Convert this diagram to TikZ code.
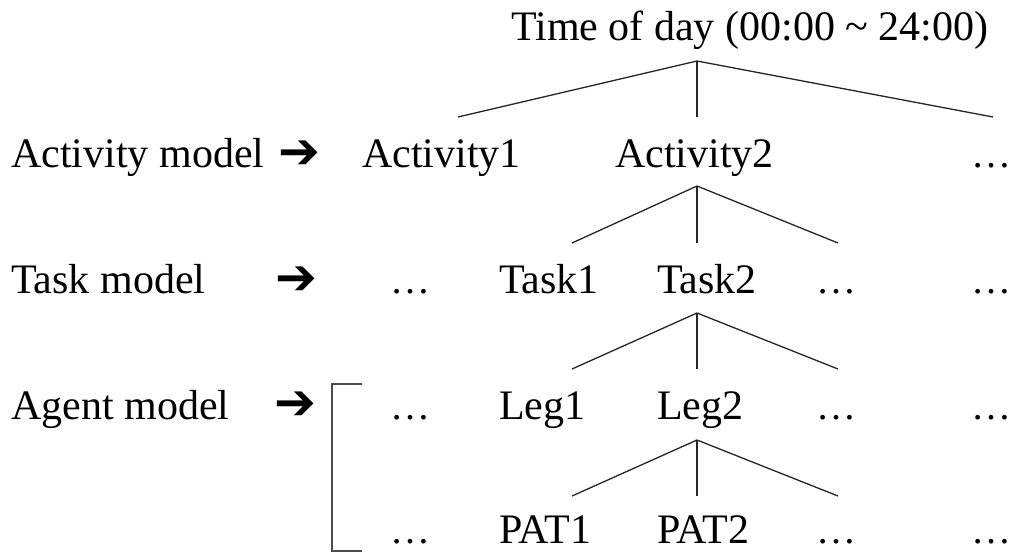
\documentclass[tikz,border=0pt]{standalone}
\usepackage{fontspec}
\setmainfont{Liberation Serif}
\newfontfamily\symfont{DejaVu Sans}
\begin{document}
\begin{tikzpicture}[x=1pt,y=-1pt,
  lbl/.style={inner sep=0pt,anchor=base west,font=\fontsize{42}{50}\selectfont},
  dots/.style={inner sep=0pt,anchor=base,font=\fontsize{40}{48}\selectfont},
  arr/.style={inner sep=0pt,anchor=center,font=\symfont\fontsize{50}{56}\selectfont},
  edge/.style={line width=1.3pt,black!85},
  brk/.style={line width=1.6pt,black!70}]
\useasboundingbox[fill=white] (0,0) rectangle (1019,552);
% title
\node[lbl] (title) at (511,40) {Time of day (00:00 \char"007E{} 24:00)};
\coordinate (t0) at (697,61);
\coordinate (t1) at (458,117);
\coordinate (t2) at (697,117);
\coordinate (t3) at (993,117);
\draw[edge] (t1) -- (t0) -- (t3);
\draw[edge] (t0) -- (t2);
% row 1
\node[lbl] (am) at (11,167) {Activity model};
\node[arr] (ar1) at (299,155) {➔};
\node[lbl] (a1) at (362,167) {Activity1};
\node[lbl] (a2) at (615,167) {Activity2};
\node[dots] (ae) at (991,167) {…};
\coordinate (a0) at (697,186);
\coordinate (a1e) at (572,243);
\coordinate (a2e) at (697,243);
\coordinate (a3e) at (838,243);
\draw[edge] (a1e) -- (a0) -- (a3e);
\draw[edge] (a0) -- (a2e);
% row 2
\node[lbl] (tm) at (11,293) {Task model};
\node[arr] (ar2) at (296,281) {➔};
\node[dots] (td) at (410,293) {…};
\node[lbl] (k1) at (499,293) {Task1};
\node[lbl] (k2) at (657,293) {Task2};
\node[dots] (kd) at (836,293) {…};
\node[dots] (ke) at (991,293) {…};
\coordinate (k0) at (697,313);
\coordinate (k1e) at (572,369);
\coordinate (k2e) at (697,369);
\coordinate (k3e) at (838,369);
\draw[edge] (k1e) -- (k0) -- (k3e);
\draw[edge] (k0) -- (k2e);
% row 3
\node[lbl] (gm) at (11,419) {Agent model};
\node[arr] (ar3) at (295,406) {➔};
\node[dots] (gd) at (410,419) {…};
\node[lbl] (l1) at (499,419) {Leg1};
\node[lbl] (l2) at (657,419) {Leg2};
\node[dots] (ld) at (836,419) {…};
\node[dots] (le) at (991,419) {…};
\coordinate (l0) at (697,440);
\coordinate (l1e) at (572,496);
\coordinate (l2e) at (697,496);
\coordinate (l3e) at (838,496);
\draw[edge] (l1e) -- (l0) -- (l3e);
\draw[edge] (l0) -- (l2e);
% row 4
\node[dots] (pd) at (410,543) {…};
\node[lbl] (p1) at (499,543) {PAT1};
\node[lbl] (p2) at (657,543) {PAT2};
\node[dots] (pe2) at (836,543) {…};
\node[dots] (pe) at (991,543) {…};
% bracket
\coordinate (b1) at (362,384);
\coordinate (b2) at (332,384);
\coordinate (b3) at (332,551);
\coordinate (b4) at (362,551);
\draw[brk] (b1) -- (b2) -- (b3) -- (b4);
\end{tikzpicture}
\end{document}
